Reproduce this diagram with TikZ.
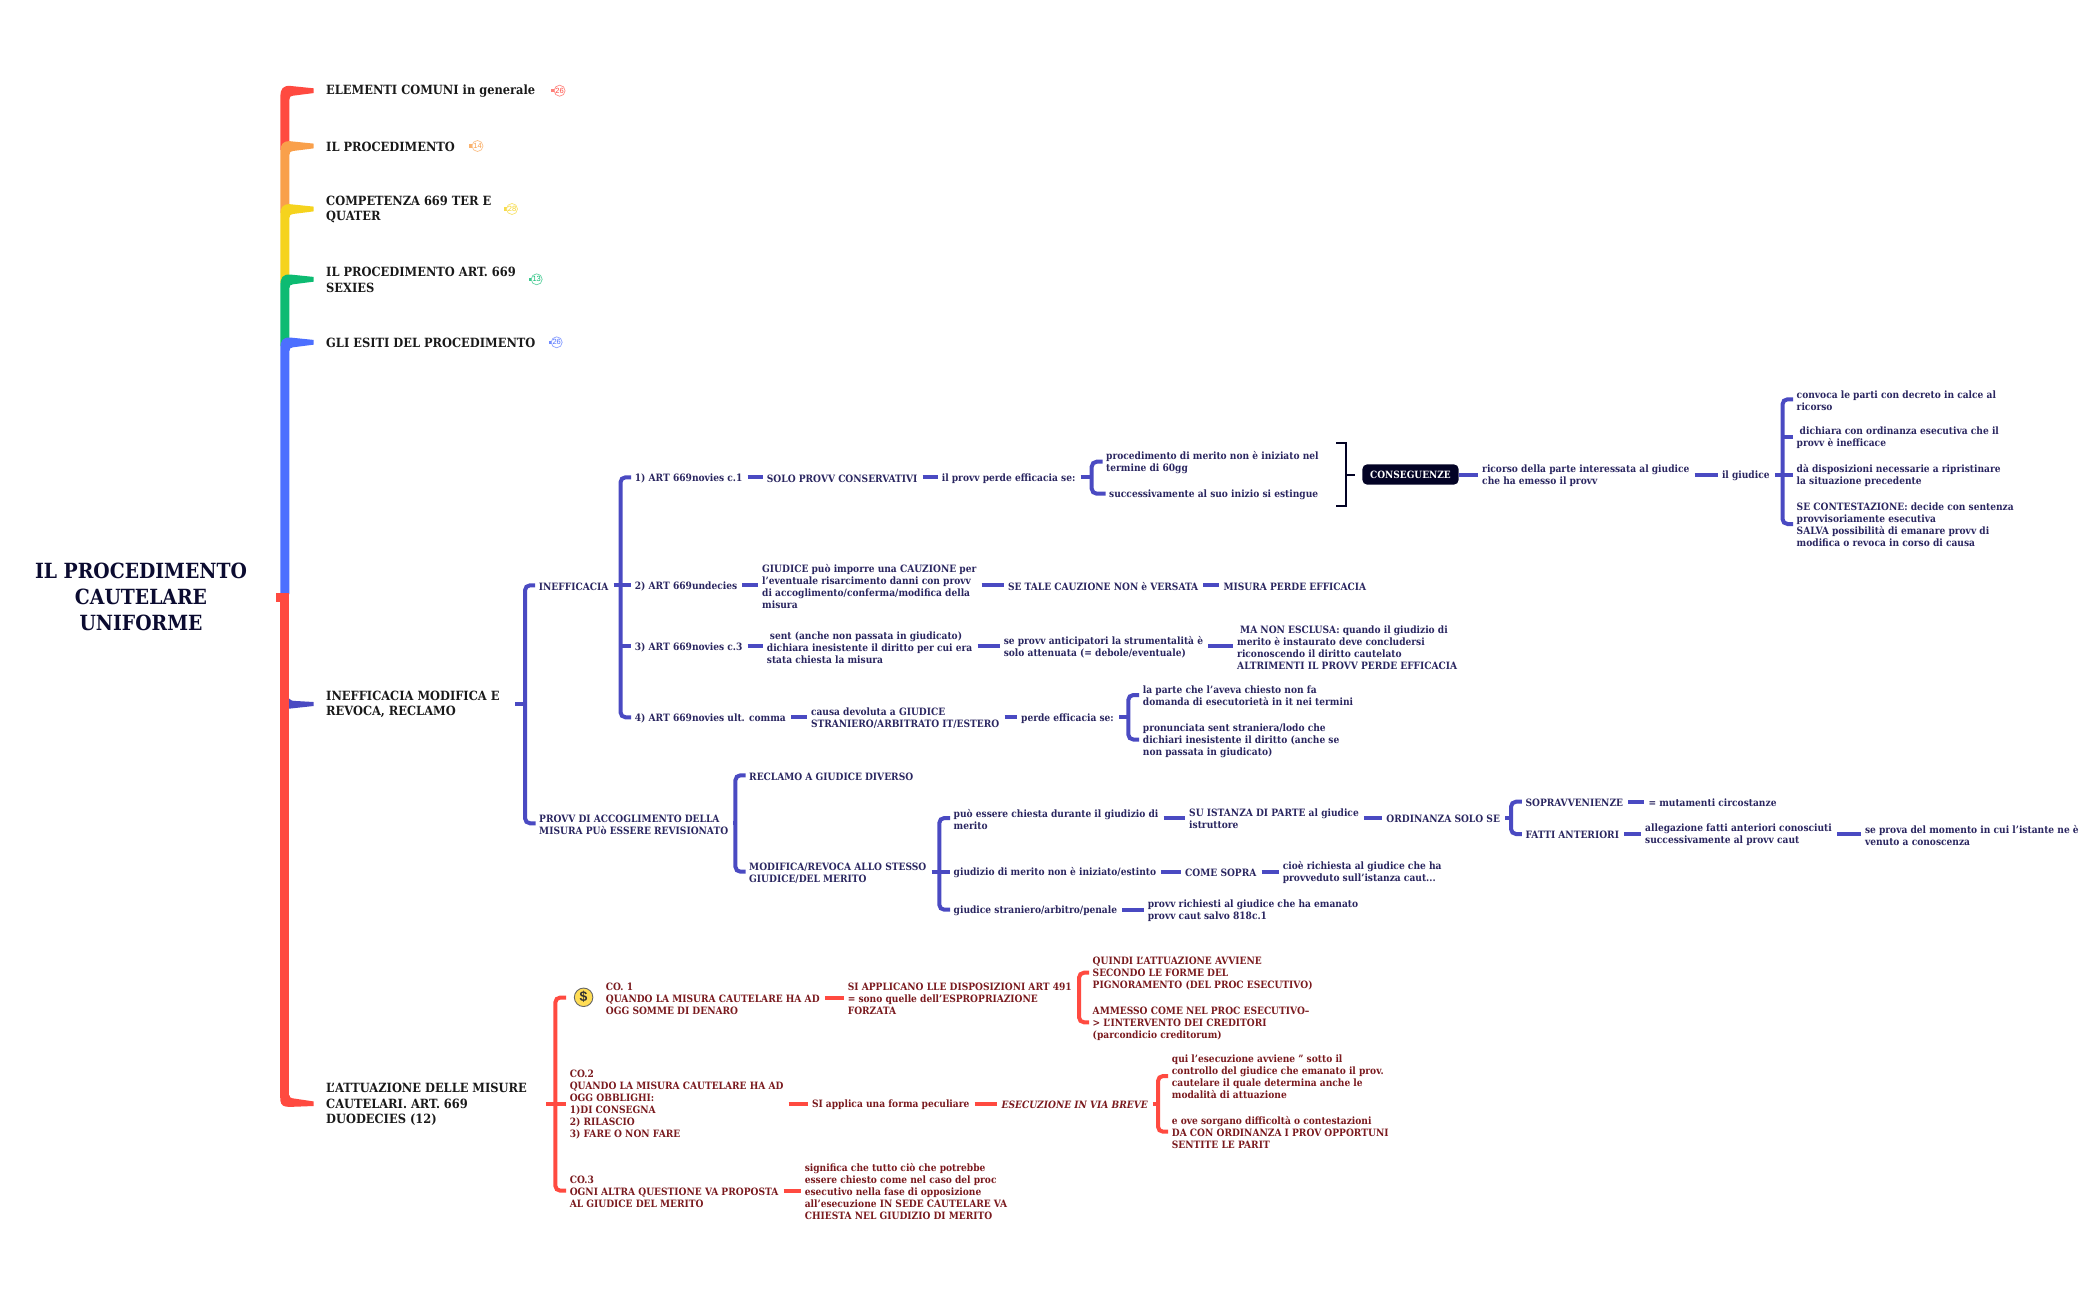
\documentclass[tikz,border=0pt]{standalone}
\usepackage{fontspec}
\setmainfont{DejaVu Serif Condensed}
\newfontfamily\fsans{Liberation Sans}
\definecolor{cred}{HTML}{FF4A40}
\definecolor{corange}{HTML}{F9A04B}
\definecolor{cyellow}{HTML}{F5D31E}
\definecolor{cgreen}{HTML}{0DBB72}
\definecolor{cblue}{HTML}{4C6FFF}
\definecolor{cpurp}{HTML}{4A4AC2}
\definecolor{tpurp}{HTML}{2A2660}
\definecolor{tmaro}{HTML}{7A1A1E}
\definecolor{tnavy}{HTML}{0B0B30}
\definecolor{cbox}{HTML}{030325}
\definecolor{ccoin}{HTML}{FFDD55}
\tikzset{
 tbig/.style={anchor=west,inner sep=0pt,align=left,yshift=-0.6pt,text=black!90,font=\bfseries\fontsize{12.7}{15.3}\selectfont},
 tp/.style={anchor=west,inner sep=0pt,align=left,yshift=-1.2pt,text=tpurp,font=\bfseries\fontsize{10.1}{12}\selectfont},
 tr/.style={anchor=west,inner sep=0pt,align=left,yshift=-1.2pt,text=tmaro,font=\bfseries\fontsize{10.1}{12}\selectfont},
 lp/.style={draw=cpurp,line width=4pt},
 lr/.style={draw=cred,line width=4pt},
 badge/.style={circle,draw=#1!65,fill=white,line width=0.7pt,inner sep=0pt,minimum size=11pt,text=#1,font=\fsans\fontsize{7.5}{7.5}\selectfont},
}
\newcommand\lk[3]{\draw[#1,shorten <=5pt,shorten >=4pt] ([yshift=1.2pt]#2.east) -- ([yshift=1.2pt]#3.west);}
\newcommand\tree[5]{%
 \coordinate (tk) at (#3,0);
 \coordinate (pp) at ([yshift=1.2pt]#2.east);
 \coordinate (tt) at ([yshift=1.2pt]#4.west);
 \coordinate (bb) at ([yshift=1.2pt]#5.west);
 \draw[#1,shorten <=5pt] (pp) -- (pp -| tk);
 \draw[#1,rounded corners=5pt,shorten <=3.5pt,shorten >=3.5pt] (tt) -- (tt -| tk) -- (bb -| tk) -- (bb);
}
\newcommand\midk[2]{\coordinate (mm) at ([yshift=1.2pt]#2.west); \draw[#1,shorten >=3.5pt] (mm -| tk) -- (mm);}
\newcommand\brtop[3]{\fill[#1] (280.4,#3) -- (280.4,#2+6) .. controls (280.4,#2-2) and (283,#2-5) .. (290,#2-4.8) -- (313.5,#2-2.4) -- (313.5,#2+2.4) -- (293,#2+5) .. controls (290.5,#2+5.3) and (289.4,#2+6) .. (289.4,#2+9) -- (289.4,#3) -- cycle;}
\begin{document}
\begin{tikzpicture}[x=1pt,y=-1pt]
\useasboundingbox (0,0) rectangle (2098,1300);
% main stem
\fill[cred] (280.4,597) rectangle (289.4,1098);
\brtop{cred}{90.7}{150}
\brtop{corange}{146}{213}
\brtop{cyellow}{209}{283}
\brtop{cgreen}{279.3}{346}
\brtop{cblue}{342.3}{594}
\fill[cred] (276,593) rectangle (289.4,602);
\fill[cred] (280.4,1095) -- (280.4,1100.7) .. controls (281,1105.7) and (284,1106.9) .. (290,1106.9) -- (313.5,1106) -- (313.5,1101.4) -- (292,1098.2) .. controls (290.4,1098) and (289.4,1097) .. (289.4,1095) -- cycle;
\fill[cpurp] (289,698.5) .. controls (290.5,700.5) and (292,700.8) .. (296,701) -- (313.6,702) -- (313.6,706) -- (289,708.7) -- cycle;
% root
\node[inner sep=0pt,align=center,text=tnavy,font=\bfseries\fontsize{20.9}{25.7}\selectfont] (root) at (141,597) {IL PROCEDIMENTO\\CAUTELARE\\UNIFORME};
% top level
\node[tbig] (n1) at (326,90.7) {ELEMENTI COMUNI in generale};
\node[tbig] (n2) at (326,146) {IL PROCEDIMENTO};
\node[tbig] (n3) at (326,209) {COMPETENZA 669 TER E\\QUATER};
\node[tbig] (n4) at (326,279.3) {IL PROCEDIMENTO ART. 669\\SEXIES};
\node[tbig] (n5) at (326,342.3) {GLI ESITI DEL PROCEDIMENTO};
\node[tbig] (n6) at (326,704) {INEFFICACIA MODIFICA E\\REVOCA, RECLAMO};
\node[tbig] (n7) at (326,1103.7) {L'ATTUAZIONE DELLE MISURE\\CAUTELARI. ART. 669\\DUODECIES (12)};
% badges
\fill[cred!70] (551,89) rectangle (554,92.4);
\node[badge=cred] (b1) at (559.6,90.7) {26};
\fill[corange!80] (469,144.3) rectangle (472,147.7);
\node[badge=corange] (b2) at (477.5,146) {14};
\fill[cyellow!80] (504,207.3) rectangle (507,210.7);
\node[badge=cyellow] (b3) at (512,209) {28};
\fill[cgreen!80] (529,277.6) rectangle (532,281);
\node[badge=cgreen] (b4) at (536.7,279.3) {13};
\fill[cblue!80] (549,340.6) rectangle (552,344);
\node[badge=cblue] (b5) at (556.7,342.3) {26};
% purple
\coordinate (n6r) at (510,705.2);
\node[tp] (ineff) at (538.7,585.3) {INEFFICACIA};
\node[tp] (provv) at (539,823.3) {PROVV DI ACCOGLIMENTO DELLA\\MISURA PUò ESSERE REVISIONATO};
\tree{lp}{n6r}{525}{ineff}{provv}
\node[tp] (a1) at (634.7,477.3) {1) ART 669novies c.1};
\node[tp] (a2) at (634.7,585.3) {2) ART 669undecies};
\node[tp] (a3) at (634.7,646.3) {3) ART 669novies c.3};
\node[tp] (a4) at (634.7,717.3) {4) ART 669novies ult. comma};
\tree{lp}{ineff}{620.5}{a1}{a4}
\midk{lp}{a2}
\midk{lp}{a3}
\node[tp] (a1b) at (766.7,477.3) {SOLO PROVV CONSERVATIVI};
\node[tp] (a1c) at (941.6,477.3) {il provv perde efficacia se:};
\lk{lp}{a1}{a1b}
\lk{lp}{a1b}{a1c}
\node[tp] (a1d) at (1106,461.7) {procedimento di merito non è iniziato nel\\termine di 60gg};
\node[tp] (a1e) at (1109,493.7) {successivamente al suo inizio si estingue};
\tree{lp}{a1c}{1091.7}{a1d}{a1e}
\node[rectangle,rounded corners=5pt,fill=cbox,text=white,inner sep=0pt,minimum width=96.4pt,minimum height=20.4pt,font=\bfseries\fontsize{10}{12}\selectfont] (cons) at (1410.5,474.5) {CONSEGUENZE};
\coordinate (sumT) at (1336,442.7);
\coordinate (sumB) at (1336,505.7);
\coordinate (sumM) at (1345.7,474.5);
\draw[cbox,line width=2pt] (sumT) -- (sumT -| sumM) -- (sumB -| sumM) -- (sumB);
\draw[cbox,line width=2pt,shorten >=7.3pt] (sumM) -- (cons.west);
\node[tp] (rc) at (1482,474.5) {ricorso della parte interessata al giudice\\che ha emesso il provv};
\draw[lp,shorten >=4pt] (cons.east) -- (cons.east -| rc.west);
\node[tp] (gd) at (1721.8,474.5) {il giudice};
\lk{lp}{rc}{gd}
\node[tp] (g1) at (1796.5,399.3) {convoca le parti con decreto in calce al\\ricorso};
\node[tp] (g2) at (1796.5,436.7) {\hspace*{3pt}dichiara con ordinanza esecutiva che il\\provv è inefficace};
\node[tp] (g3) at (1796.5,474.5) {dà disposizioni necessarie a ripristinare\\la situazione precedente};
\node[tp] (g4) at (1796.5,524) {SE CONTESTAZIONE: decide con sentenza\\provvisoriamente esecutiva\\SALVA possibilità di emanare provv di\\modifica o revoca in corso di causa};
\tree{lp}{gd}{1782.5}{g1}{g4}
\midk{lp}{g2}
\midk{lp}{g3}
\node[tp] (a2b) at (762,585.3) {GIUDICE può imporre una CAUZIONE per\\l'eventuale risarcimento danni con provv\\di accoglimento/conferma/modifica della\\misura};
\node[tp] (a2c) at (1007.8,585.3) {SE TALE CAUZIONE NON è VERSATA};
\node[tp] (a2d) at (1223.3,585.3) {MISURA PERDE EFFICACIA};
\lk{lp}{a2}{a2b}
\lk{lp}{a2b}{a2c}
\lk{lp}{a2c}{a2d}
\node[tp] (a3b) at (766.7,646.3) {\hspace*{3pt}sent (anche non passata in giudicato)\\dichiara inesistente il diritto per cui era\\stata chiesta la misura};
\node[tp] (a3c) at (1003.6,646.3) {se provv anticipatori la strumentalità è\\solo attenuata (= debole/eventuale)};
\node[tp] (a3d) at (1237,646.3) {\hspace*{3pt}MA NON ESCLUSA: quando il giudizio di\\merito è instaurato deve concludersi\\riconoscendo il diritto cautelato\\ALTRIMENTI IL PROVV PERDE EFFICACIA};
\lk{lp}{a3}{a3b}
\lk{lp}{a3b}{a3c}
\lk{lp}{a3c}{a3d}
\node[tp] (a4b) at (810.8,717.3) {causa devoluta a GIUDICE\\STRANIERO/ARBITRATO IT/ESTERO};
\node[tp] (a4c) at (1021,717.3) {perde efficacia se:};
\lk{lp}{a4}{a4b}
\lk{lp}{a4b}{a4c}
\node[tp] (a4d) at (1142.7,695) {la parte che l'aveva chiesto non fa\\domanda di esecutorietà in it nei termini};
\node[tp] (a4e) at (1142.7,739.5) {pronunciata sent straniera/lodo che\\dichiari inesistente il diritto (anche se\\non passata in giudicato)};
\tree{lp}{a4c}{1128.3}{a4d}{a4e}
% provv
\node[tp] (r1) at (749,775.3) {RECLAMO A GIUDICE DIVERSO};
\node[tp] (r2) at (749,871.7) {MODIFICA/REVOCA ALLO STESSO\\GIUDICE/DEL MERITO};
\tree{lp}{provv}{735.4}{r1}{r2}
\node[tp] (m1) at (953.5,818) {può essere chiesta durante il giudizio di\\merito};
\node[tp] (m2) at (953.5,871.7) {giudizio di merito non è iniziato/estinto};
\node[tp] (m3) at (953.5,909.7) {giudice straniero/arbitro/penale};
\tree{lp}{r2}{939.3}{m1}{m3}
\midk{lp}{m2}
\node[tp] (m1b) at (1189,818) {SU ISTANZA DI PARTE al giudice\\istruttore};
\node[tp] (m1c) at (1386.2,818) {ORDINANZA SOLO SE};
\lk{lp}{m1}{m1b}
\lk{lp}{m1b}{m1c}
\node[tp] (s1) at (1525.3,801.7) {SOPRAVVENIENZE};
\node[tp] (s2) at (1525.3,834) {FATTI ANTERIORI};
\tree{lp}{m1c}{1511}{s1}{s2}
\node[tp] (s1b) at (1648.3,801.7) {= mutamenti circostanze};
\lk{lp}{s1}{s1b}
\node[tp] (s2b) at (1645,834) {allegazione fatti anteriori conosciuti\\successivamente al provv caut};
\node[tp] (s2c) at (1864.8,834) {se prova del momento in cui l'istante ne è\\venuto a conoscenza};
\lk{lp}{s2}{s2b}
\lk{lp}{s2b}{s2c}
\node[tp] (m2b) at (1185,871.7) {COME SOPRA};
\node[tp] (m2c) at (1282.6,871.7) {cioè richiesta al giudice che ha\\provveduto sull'istanza caut...};
\lk{lp}{m2}{m2b}
\lk{lp}{m2b}{m2c}
\node[tp] (m3b) at (1147.6,909.7) {provv richiesti al giudice che ha emanato\\provv caut salvo 818c.1};
\lk{lp}{m3}{m3b}
% red
\coordinate (n7r) at (541,1104.9);
\coordinate (co1a) at (569.5,998.7);
\node[circle,draw=black!60,fill=ccoin,line width=0.9pt,minimum size=18.5pt,inner sep=0pt,text=black!80,font=\fsans\bfseries\fontsize{14}{14}\selectfont] (coin) at (583.6,997.3) {\$};
\node[tr] (c1) at (605.7,997.5) {CO. 1\\QUANDO LA MISURA CAUTELARE HA AD\\OGG SOMME DI DENARO};
\node[tr] (c2) at (569.6,1103.7) {CO.2\\QUANDO LA MISURA CAUTELARE HA AD\\OGG OBBLIGHI:\\1)DI CONSEGNA\\2) RILASCIO\\3) FARE O NON FARE};
\node[tr] (c3) at (569.6,1190.7) {CO.3\\OGNI ALTRA QUESTIONE VA PROPOSTA\\AL GIUDICE DEL MERITO};
\tree{lr}{n7r}{555.3}{co1a}{c3}
\midk{lr}{c2}
\node[tr] (c1b) at (847.6,997.5) {SI APPLICANO LLE DISPOSIZIONI ART 491\\= sono quelle dell'ESPROPRIAZIONE\\FORZATA};
\lk{lr}{c1}{c1b}
\node[tr] (c1c) at (1092.5,972.7) {QUINDI L'ATTUAZIONE AVVIENE\\SECONDO LE FORME DEL\\PIGNORAMENTO (DEL PROC ESECUTIVO)};
\node[tr] (c1d) at (1092.5,1022.3) {AMMESSO COME NEL PROC ESECUTIVO--\\> L'INTERVENTO DEI CREDITORI\\(parcondicio creditorum)};
\tree{lr}{c1b}{1079}{c1c}{c1d}
\node[tr] (c2b) at (811.8,1103.7) {SI applica una forma peculiare};
\node[tr,font=\bfseries\itshape\fontsize{10.1}{12}\selectfont] (c2c) at (1001.4,1103.7) {ESECUZIONE IN VIA BREVE};
\lk{lr}{c2}{c2b}
\lk{lr}{c2b}{c2c}
\node[tr] (c2d) at (1171.7,1076) {qui l'esecuzione avviene '' sotto il\\controllo del giudice che emanato il prov.\\cautelare il quale determina anche le\\modalità di attuazione};
\node[tr] (c2e) at (1171.7,1131.7) {e ove sorgano difficoltà o contestazioni\\DA CON ORDINANZA I PROV OPPORTUNI\\SENTITE LE PARIT};
\tree{lr}{c2c}{1158}{c2d}{c2e}
\node[tr] (c3b) at (804.6,1190.7) {significa che tutto ciò che potrebbe\\essere chiesto come nel caso del proc\\esecutivo nella fase di opposizione\\all'esecuzione IN SEDE CAUTELARE VA\\CHIESTA NEL GIUDIZIO DI MERITO};
\lk{lr}{c3}{c3b}
\end{tikzpicture}
\end{document}
